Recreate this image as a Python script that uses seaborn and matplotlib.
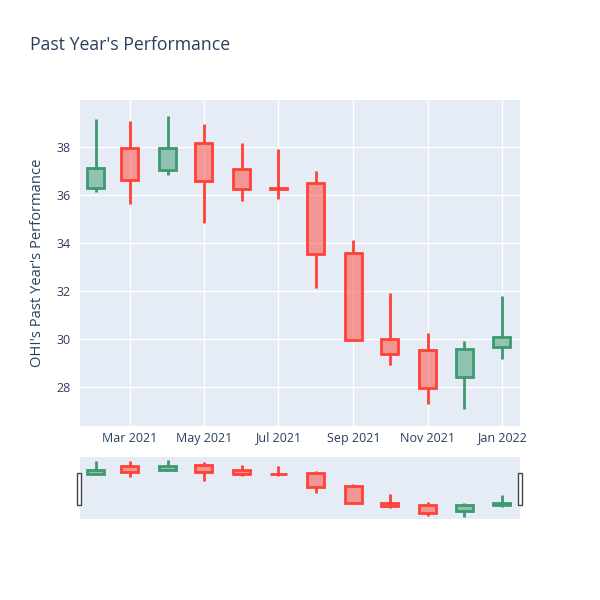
import pandas as pd
import numpy as np
import matplotlib
matplotlib.use("Agg")
import matplotlib.pyplot as plt
import matplotlib.dates as mdates
from matplotlib.patches import Rectangle
import seaborn as sns

dates = ["2021-02-01", "2021-03-01", "2021-04-01", "2021-05-01", "2021-06-01", "2021-07-01",
         "2021-08-01", "2021-09-01", "2021-10-01", "2021-11-01", "2021-12-01", "2022-01-01"]
opens = [36.28, 37.94, 37.04, 38.15, 37.10, 36.30, 36.49, 33.58, 29.99, 29.54, 28.40, 29.65]
highs = [39.15, 39.08, 39.29, 38.96, 38.15, 37.93, 37.01, 34.11, 31.93, 30.26, 29.93, 31.78]
lows = [36.14, 35.61, 36.83, 34.85, 35.76, 35.82, 32.14, 29.95, 28.92, 27.28, 27.07, 29.18]
closes = [37.11, 36.61, 37.97, 36.60, 36.25, 36.27, 33.53, 29.96, 29.36, 27.96, 29.60, 30.07]

df = pd.DataFrame({"date": pd.to_datetime(dates), "open": opens, "high": highs,
                   "low": lows, "close": closes})

sns.set_theme(style="darkgrid", rc={"axes.facecolor": "#E5ECF6", "grid.color": "white",
                                    "grid.linewidth": 1.0})
plt.rcParams["font.family"] = ["Open Sans", "DejaVu Sans"]

text_color = "#2a3f5f"
up_color = "#3D9970"
down_color = "#FF4136"

fig = plt.figure(figsize=(6, 6), dpi=100)
ax = fig.add_axes([80 / 600, 1 - 426 / 600, 440 / 600, 326 / 600])
ax_rs = fig.add_axes([80 / 600, 1 - 519 / 600, 440 / 600, 62 / 600])

x_lo = pd.Timestamp("2021-01-19")
x_hi = pd.Timestamp("2022-01-16")


def draw_candles(a, lw):
    for _, r in df.iterrows():
        up = r["close"] >= r["open"]
        c = up_color if up else down_color
        top = max(r["open"], r["close"])
        bot = min(r["open"], r["close"])
        d = mdates.date2num(r["date"])
        a.vlines(d, top, r["high"], color=c, lw=lw, zorder=3)
        a.vlines(d, r["low"], bot, color=c, lw=lw, zorder=3)
        h = max(top - bot, 0.001)
        a.bar(d, h, bottom=bot, width=14, facecolor=matplotlib.colors.to_rgba(c, 0.5),
              edgecolor=c, linewidth=lw, zorder=4)


draw_candles(ax, 2)
ax.set_xlim(x_lo, x_hi)
ax.set_ylim(26.375, 39.96)
ax.set_yticks([28, 30, 32, 34, 36, 38])
ax.xaxis.set_major_locator(mdates.MonthLocator(bymonth=[1, 3, 5, 7, 9, 11]))
ax.xaxis.set_major_formatter(mdates.DateFormatter("%b %Y"))
ax.tick_params(axis="both", length=0, labelsize=9, colors=text_color)
ax.tick_params(axis="x", pad=4)
ax.tick_params(axis="y", pad=7)
for s in ax.spines.values():
    s.set_visible(False)
ax.set_ylabel("OHI's Past Year's Performance", fontsize=10.6, color=text_color)
ax.yaxis.set_label_coords(-0.08, 0.5)

draw_candles(ax_rs, 2)
ax_rs.set_xlim(x_lo, x_hi)
ax_rs.set_ylim(26.57, 39.94)
ax_rs.set_xticks([])
ax_rs.set_yticks([])
ax_rs.grid(False)
for s in ax_rs.spines.values():
    s.set_visible(False)

# range slider handles
for hx in [77, 518]:
    fig.patches.append(Rectangle((hx / 600, 1 - 505 / 600), 4 / 600, 32 / 600,
                                 transform=fig.transFigure, facecolor="white",
                                 edgecolor="#444444", linewidth=1, zorder=10))

fig.text(30 / 600, 1 - 45 / 600, "Past Year's Performance", fontsize=12.7,
         color=text_color, va="center", ha="left")

fig.savefig("out.png", dpi=100, facecolor="white")
